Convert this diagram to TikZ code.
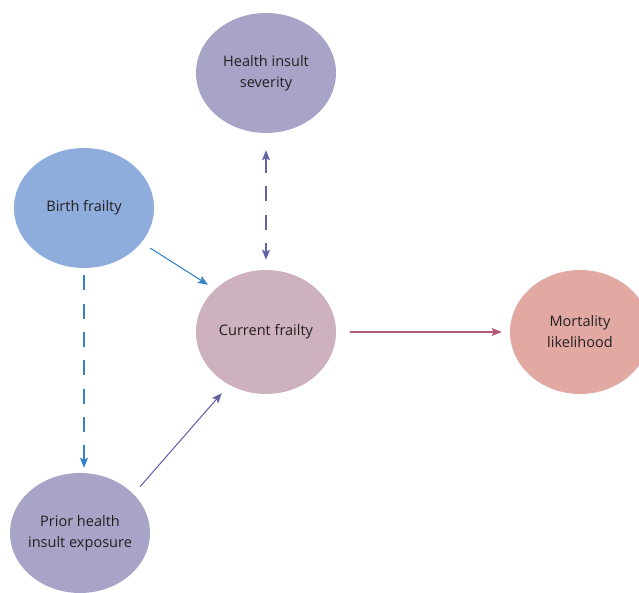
\documentclass[tikz,border=0pt]{standalone}
\usepackage{fontspec}
\setmainfont{Open Sans}
\usetikzlibrary{arrows.meta,shapes.geometric}
\definecolor{FRPurple}{HTML}{A8A4C8}
\definecolor{FRBlue}{HTML}{8FADDC}
\definecolor{FRMauve}{HTML}{CDB1BF}
\definecolor{FRPink}{HTML}{E2A9A3}
\definecolor{FRText}{HTML}{231F20}
\definecolor{FRBlueLine}{HTML}{3482C8}
\definecolor{FRPurpleLine}{HTML}{6264A6}
\definecolor{FRRedLine}{HTML}{B55A76}
\tikzset{
  frnode/.style={ellipse,inner xsep=-0.4cm,inner ysep=0pt,minimum width=4.20cm,minimum height=3.60cm,align=center,font=\fontsize{12.4}{18}\selectfont,text=FRText},
  frtip/.tip={Stealth[length=3mm,width=2.4mm,inset=0.6mm]},
  frlink/.style={line width=0.9pt,-frtip},
  frdash/.style={dash pattern=on 0.45cm off 0.40cm}
}
\begin{document}
\begin{tikzpicture}[x=1cm,y=1cm]
\path[use as bounding box] (0,0) rectangle (19.17,17.79);
\node[frnode,fill=FRPurple] (severity) at (7.98,15.60) {Health insult\\severity};
\node[frnode,fill=FRBlue] (birth) at (2.52,11.55) {Birth frailty};
\node[frnode,fill=FRMauve,minimum height=3.72cm] (current) at (7.98,7.83) {Current frailty};
\node[frnode,fill=FRPink,minimum height=3.72cm] (mortality) at (17.40,7.83) {Mortality\\likelihood};
\node[frnode,fill=FRPurple] (prior) at (2.40,1.80) {Prior health\\insult exposure};
% links
\draw[frlink,FRBlueLine,shorten <=0.31cm,shorten >=0.25cm] (birth.-31) -- (current.140);
\draw[frlink,FRBlueLine,frdash,shorten <=0.21cm,shorten >=0.15cm] (birth.south) -- (birth.south |- prior.north);
\draw[frlink,frtip-frtip,FRPurpleLine,frdash,shorten <=0.51cm,shorten >=0.30cm] (severity) -- (current);
\draw[frlink,FRPurpleLine,shorten <=0.30cm,shorten >=0.33cm] (prior.36) -- (current.235);
\draw[frlink,FRRedLine,shorten <=0.42cm,shorten >=0.24cm] (current) -- (mortality);
\end{tikzpicture}
\end{document}
